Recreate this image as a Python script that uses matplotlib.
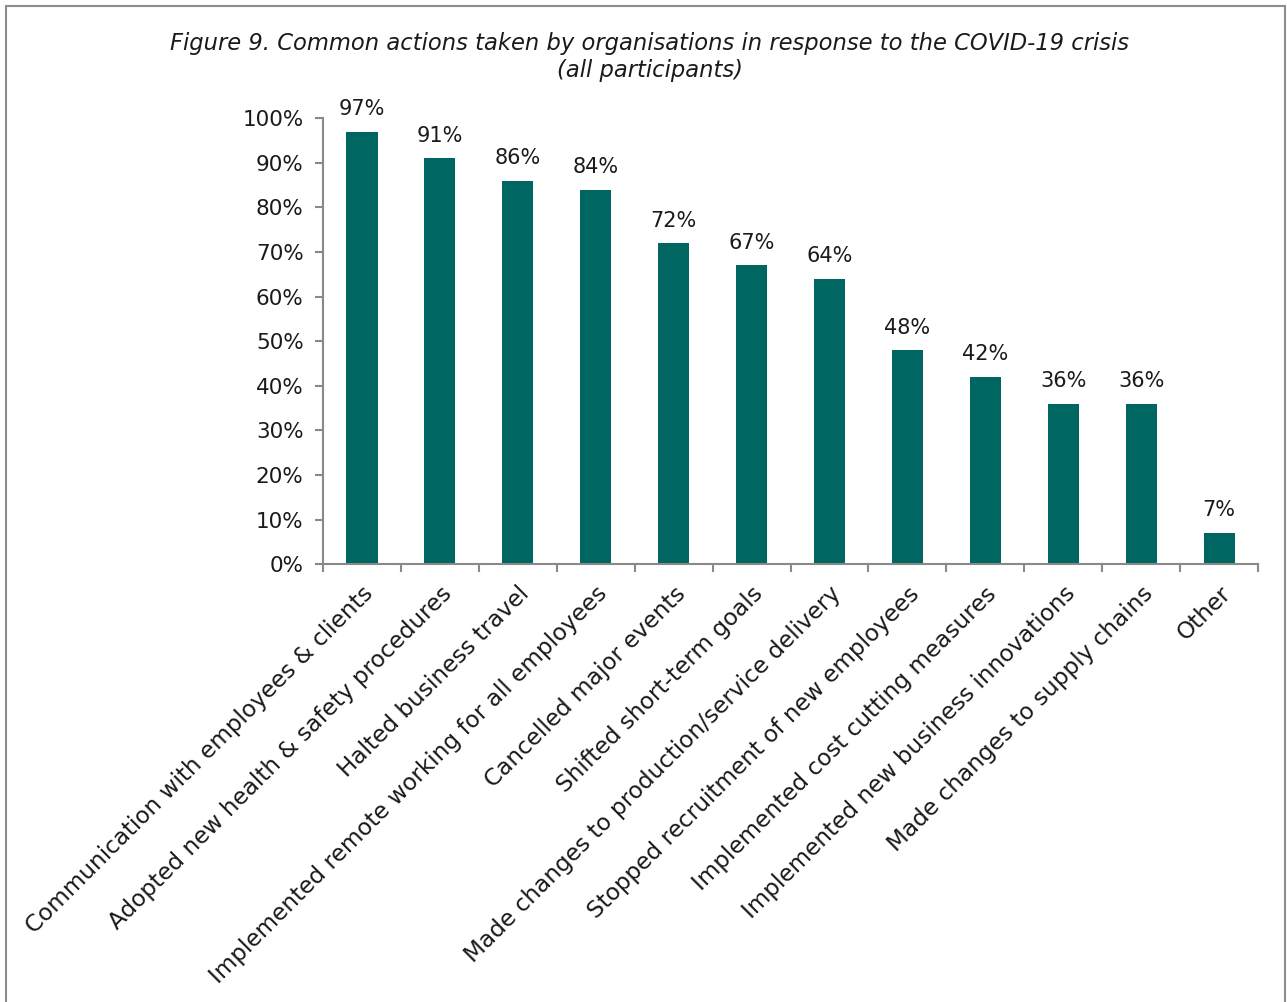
import numpy as np
import matplotlib.pyplot as plt
from matplotlib.patches import Rectangle

plt.rcParams['font.family'] = ['DejaVu Sans']

# 数据
actions = ["Communication with employees & clients",
           "Adopted new health & safety procedures",
           "Halted business travel",
           "Implemented remote working for all employees",
           "Cancelled major events",
           "Shifted short-term goals",
           "Made changes to production/service delivery",
           "Stopped recruitment of new employees",
           "Implemented cost cutting measures",
           "Implemented new business innovations",
           "Made changes to supply chains",
           "Other"]
share = [97, 91, 86, 84, 72, 67, 64, 48, 42, 36, 36, 7]
yticks = list(range(0, 101, 10))

bar_color = '#006662'
axis_gray = '#898989'
text_color = '#1a1a1a'

# 画图
fig = plt.figure(figsize=(12.87, 10.02), dpi=100)
ax = fig.add_axes([0.251, 0.437, 0.7265, 0.445])

x = np.arange(len(actions))
ax.bar(x, share, width=0.4, color=bar_color, zorder=2)
for xi, v in zip(x, share):
    ax.annotate(f"{v}%", (xi, v), xytext=(0, 9), textcoords='offset points',
                ha='center', va='bottom', fontsize=15, color=text_color)

ax.set_xlim(-0.5, len(actions) - 0.5)
ax.set_ylim(0, 100)
ax.set_yticks(yticks)
ax.set_yticklabels([f"{t}%" for t in yticks], fontsize=15.5, color=text_color)

# x轴刻度在类别之间，标签单独画
ax.set_xticks(np.arange(len(actions) + 1) - 0.5)
ax.set_xticklabels([])
ax.set_xticks(x, minor=True)
ax.set_xticklabels(actions, minor=True, rotation=45, ha='right',
                   rotation_mode='anchor', fontsize=16.7, color=text_color)
ax.tick_params(axis='x', which='minor', length=0, pad=13)
ax.tick_params(axis='both', which='major', direction='out', length=6,
               width=1.5, color=axis_gray)
ax.tick_params(axis='y', pad=8)

for s in ['top', 'right']:
    ax.spines[s].set_visible(False)
for s in ['left', 'bottom']:
    ax.spines[s].set_color(axis_gray)
    ax.spines[s].set_linewidth(1.5)

fig.text(0.505, 0.943,
         "Figure 9. Common actions taken by organisations in response to the COVID-19 crisis\n(all participants)",
         ha='center', va='center', style='italic', fontsize=16.3,
         color=text_color, linespacing=1.25)

# 外框
fig.patches.append(Rectangle((6 / 1287, -0.05), 1279 / 1287, 1.05 - 6 / 1002,
                             transform=fig.transFigure, fill=False,
                             edgecolor='#8c8c8c', linewidth=1.5))

plt.savefig("out.png")
